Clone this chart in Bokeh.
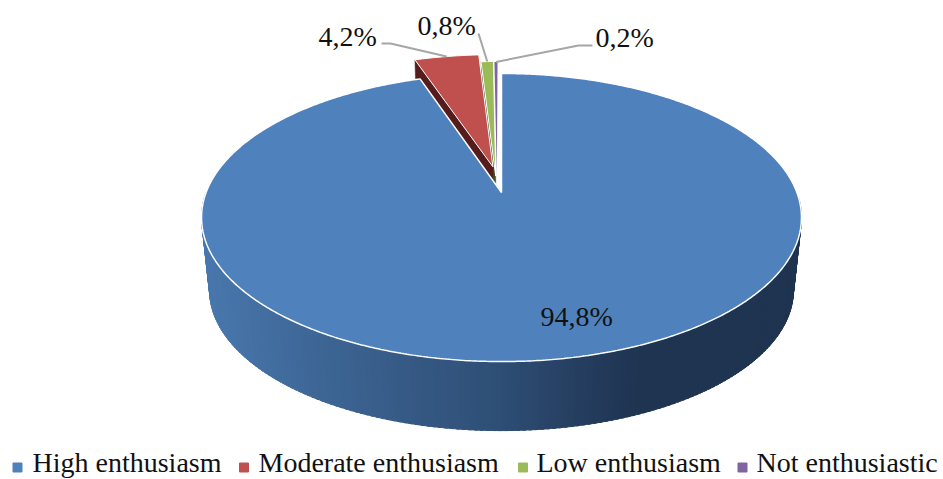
import numpy as np
from bokeh.plotting import figure
from bokeh.models import Range1d
from bokeh.core.properties import value
from bokeh.embed import file_html
from bokeh.resources import INLINE

categories = ["High enthusiasm", "Moderate enthusiasm", "Low enthusiasm", "Not enthusiastic"]
shares = [94.8, 4.2, 0.8, 0.2]
share_labels = ["94,8%", "4,2%", "0,8%", "0,2%"]

colors = ["#4f81bd", "#c0504d", "#9bbb59", "#8064a2"]
side_colors = ["#1f3451", "#561c1b", "#3f5022", "#3a2c4c"]
explode = [(0.0, 0.0), (-0.03, 0.19), (-0.02, 0.12), (-0.016, 0.115)]

CX, Y0, A, B, K = 501.0, 192.0, 295.4, 139.7, 0.1736
DROP_S, DROP_Y0 = 0.973, 265.6


def top(u, v):
    d = 1 + K * v
    return CX + A * u / d, Y0 - B * v / d


def bottom(u, v):
    d = 1 + K * v
    return CX + DROP_S * A * u / d, DROP_Y0 - DROP_S * B * v / d


def arc(a0, a1, off):
    t = np.radians(np.linspace(a0, a1, max(int(abs(a1 - a0) * 2), 3)))
    return np.sin(t) + off[0], np.cos(t) + off[1]


p = figure(width=943, height=479, output_backend="svg", toolbar_location=None,
           x_range=Range1d(0, 943), y_range=Range1d(479, 0), min_border=0)
p.xaxis.visible = False
p.yaxis.visible = False
p.grid.visible = False
p.outline_line_color = None
p.background_fill_color = "white"
p.border_fill_color = "white"

# angular extents of the slices, clockwise from the top
edges = np.concatenate([[0.0], np.cumsum(shares)]) / sum(shares) * 360.0

# rim of the big slice, shaded from left to right
shade_x = [205, 300, 400, 500, 600, 640, 800]
shade_r = [0x4a, 0x3f, 0x37, 0x2e, 0x23, 0x1f, 0x1f]
shade_g = [0x78, 0x69, 0x5b, 0x4e, 0x3a, 0x34, 0x34]
shade_b = [0xae, 0x99, 0x87, 0x75, 0x5a, 0x51, 0x51]
ang = np.arange(92.0, 270.0, 1.0)
rx, ry, rc = [], [], []
for a0 in ang:
    ua, va = arc(a0, a0 + 1.5, (0, 0))
    tx, ty = top(ua, va)
    bx, by = bottom(ua, va)
    xs = list(tx) + list(bx[::-1])
    ys = list(ty) + list(by[::-1])
    m = float(np.mean(xs))
    c = "#%02x%02x%02x" % (int(np.interp(m, shade_x, shade_r)),
                           int(np.interp(m, shade_x, shade_g)),
                           int(np.interp(m, shade_x, shade_b)))
    rx.append(xs); ry.append(ys); rc.append(c)
p.patches(rx, ry, fill_color=rc, line_color=rc, line_width=1)

# cut faces of the pulled-out slices, later hidden partly by the big slice
for i in (2, 1):
    off = explode[i]
    u_o, v_o = np.sin(np.radians(edges[i])) + off[0], np.cos(np.radians(edges[i])) + off[1]
    pts = [top(off[0], off[1]), top(u_o, v_o), bottom(u_o, v_o), bottom(off[0], off[1])]
    p.patch([q[0] for q in pts], [q[1] for q in pts], fill_color=side_colors[i],
            line_color=side_colors[i], line_width=0.5)

# big slice top face
ua, va = arc(edges[0], edges[1], explode[0])
tx, ty = top(ua, va)
p.patch([CX] + list(tx) + [CX], [Y0] + list(ty) + [Y0], fill_color=colors[0],
        line_color="white", line_width=1.5)

# small slices' top faces
for i in (1, 2, 3):
    off = explode[i]
    ua, va = arc(edges[i], edges[i + 1], off)
    tx, ty = top(ua, va)
    ax, ay = top(off[0], off[1])
    p.patch([ax] + list(tx) + [ax], [ay] + list(ty) + [ay], fill_color=colors[i],
            line_color="#ffffff" if i < 3 else None, line_width=1)

# leader lines from the labels to the slices
leader_points = {1: [(381, 43), (390, 43)], 2: [(478, 33)], 3: [(592, 45), (578, 45)]}
for i, pts in leader_points.items():
    mid = (edges[i] + edges[i + 1]) / 2
    off = explode[i]
    ax, ay = top(np.sin(np.radians(mid)) + off[0], np.cos(np.radians(mid)) + off[1])
    p.line([q[0] for q in pts] + [ax], [q[1] for q in pts] + [ay], line_color="#a6a6a6", line_width=2)

# value labels
label_x = [540, 318, 417, 595]
label_y = [316, 36, 25, 37]
p.text(label_x, label_y, text=share_labels, text_font=value("Liberation Serif"),
       text_font_size="28px", text_color="#111111", text_align="left", text_baseline="middle")

# legend
swatch_x = [17, 243.5, 522.5, 742]
text_x = [32, 258, 536, 756]
p.scatter(swatch_x, [467] * 4, marker="square", size=9, fill_color=colors, line_color=colors)
p.text(text_x, [462] * 4, text=categories, text_font=value("Liberation Serif"),
       text_font_size="28px", text_color="#111111", text_align="left", text_baseline="middle")

open("out.html", "w").write(file_html(p, INLINE))
